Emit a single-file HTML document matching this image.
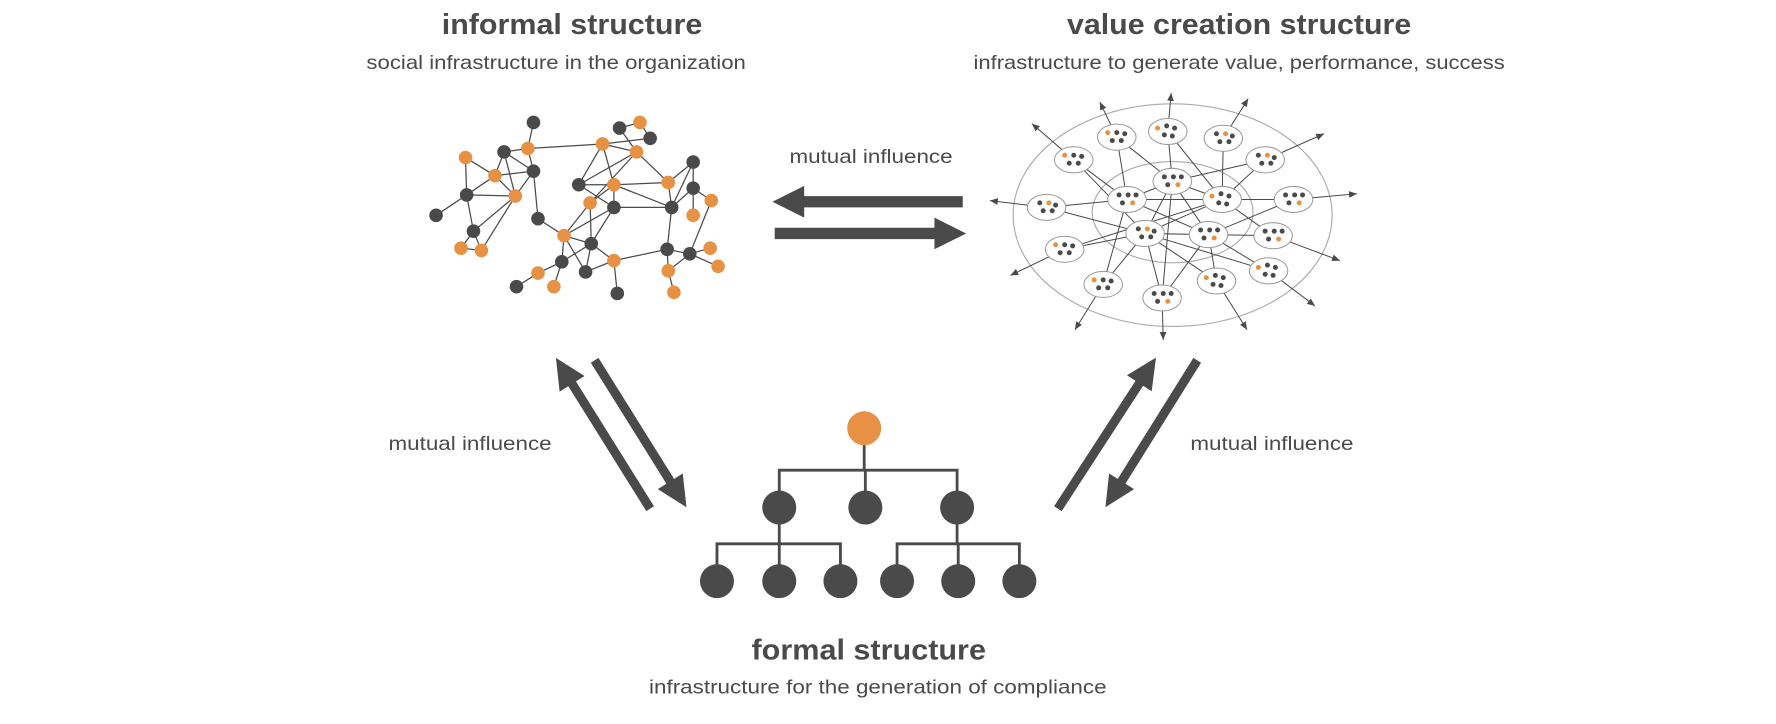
<!DOCTYPE html>
<html><head><meta charset="utf-8"><style>
html,body{margin:0;padding:0;background:#fff;width:1776px;height:724px;overflow:hidden}
svg{display:block}
text{font-family:"Liberation Sans",sans-serif;fill:#4a4a4a}
</style></head><body>
<svg width="1776" height="724" viewBox="0 0 1568 639" xmlns="http://www.w3.org/2000/svg" xmlns:xlink="http://www.w3.org/1999/xlink">
<defs>
<marker id="ah" markerWidth="8" markerHeight="8" refX="7" refY="4" orient="auto" markerUnits="userSpaceOnUse"><path d="M0,1 L7,4 L0,7 Z" fill="#4a4a4a"/></marker>
<g id="p0"><ellipse rx="17" ry="11.5" fill="#fff" stroke="#999" stroke-width="0.9"/><circle cx="-8" cy="-4" r="2.2" fill="#e69143"/><g fill="#4a4a4a"><circle cx="0" cy="-4" r="2.2"/><circle cx="7" cy="-3" r="2.2"/><circle cx="-4" cy="3" r="2.2"/><circle cx="4" cy="3" r="2.2"/></g></g>
<g id="p1"><ellipse rx="17" ry="11.5" fill="#fff" stroke="#999" stroke-width="0.9"/><circle cx="5" cy="3" r="2.2" fill="#e69143"/><g fill="#4a4a4a"><circle cx="-7" cy="-4" r="2.2"/><circle cx="1" cy="-4" r="2.2"/><circle cx="8" cy="-4" r="2.2"/><circle cx="-4" cy="3" r="2.2"/></g></g>
<g id="p2"><ellipse rx="17" ry="11.5" fill="#fff" stroke="#999" stroke-width="0.9"/><circle cx="-9" cy="-3" r="2.2" fill="#e69143"/><g fill="#4a4a4a"><circle cx="-1" cy="-5" r="2.2"/><circle cx="6" cy="-3" r="2.2"/><circle cx="-3" cy="3" r="2.2"/><circle cx="4" cy="4" r="2.2"/></g></g>
<g id="p3"><ellipse rx="17" ry="11.5" fill="#fff" stroke="#999" stroke-width="0.9"/><circle cx="2" cy="-4" r="2.2" fill="#e69143"/><g fill="#4a4a4a"><circle cx="-6" cy="-4" r="2.2"/><circle cx="8" cy="-2" r="2.2"/><circle cx="-3" cy="3" r="2.2"/><circle cx="5" cy="3" r="2.2"/></g></g>
</defs>
<g text-anchor="middle">
<text x="505" y="30" font-size="25" font-weight="bold" textLength="230" lengthAdjust="spacingAndGlyphs">informal structure</text>
<text x="491" y="61" font-size="17" textLength="335" lengthAdjust="spacingAndGlyphs">social infrastructure in the organization</text>
<text x="1094" y="30" font-size="25" font-weight="bold" textLength="304" lengthAdjust="spacingAndGlyphs">value creation structure</text>
<text x="1094" y="61" font-size="17" textLength="469" lengthAdjust="spacingAndGlyphs">infrastructure to generate value, performance, success</text>
<text x="767" y="582" font-size="25" font-weight="bold" textLength="207" lengthAdjust="spacingAndGlyphs">formal structure</text>
<text x="775" y="612" font-size="17" textLength="404" lengthAdjust="spacingAndGlyphs">infrastructure for the generation of compliance</text>
<text x="769" y="144" font-size="17" textLength="144" lengthAdjust="spacingAndGlyphs">mutual influence</text>
<text x="415" y="397" font-size="17" textLength="144" lengthAdjust="spacingAndGlyphs">mutual influence</text>
<text x="1123" y="397" font-size="17" textLength="144" lengthAdjust="spacingAndGlyphs">mutual influence</text>
</g>
<g fill="#4a4a4a">
<polygon points="682,178 710,164 710,173 850,173 850,183 710,183 710,192"/>
<polygon points="853,206 825,192 825,201 684,201 684,211 825,211 825,220"/>
<g transform="translate(574,449) rotate(-122)"><polygon points="0,-4 130,-4 130,-13 157,0 130,13 130,4 0,4"/></g>
<g transform="translate(525,318) rotate(58)"><polygon points="0,-4 126,-4 126,-13 153,0 126,13 126,4 0,4"/></g>
<g transform="translate(934,449) rotate(-57)"><polygon points="0,-4 132,-4 132,-13 159,0 132,13 132,4 0,4"/></g>
<g transform="translate(1057,318) rotate(122)"><polygon points="0,-4 126,-4 126,-13 153,0 126,13 126,4 0,4"/></g>
</g>
<g stroke="#4a4a4a" stroke-width="2.5" fill="none">
<path d="M763,378 V415 M688,448 V415 H845 V448 M764,415 V448 M688,448 V480 M633,513 V480 H742 V513 M688,480 V513 M845,448 V480 M792,513 V480 H900 V513 M846,480 V513"/>
</g>
<g fill="#4a4a4a">
<circle cx="688" cy="448" r="15"/><circle cx="764" cy="448" r="15"/><circle cx="845" cy="448" r="15"/>
<circle cx="633" cy="513" r="15"/><circle cx="688" cy="513" r="15"/><circle cx="742" cy="513" r="15"/>
<circle cx="792" cy="513" r="15"/><circle cx="846" cy="513" r="15"/><circle cx="900" cy="513" r="15"/>
</g>
<circle cx="763" cy="378" r="15" fill="#e69143"/>
<!-- informal network -->
<path stroke="#4a4a4a" stroke-width="1.1" fill="none" d="M471,108L466,131 M466,131L445,134 M466,131L532,127 M466,131L471,151 M445,134L437,155 M445,134L471,151 M445,134L455,173 M411,139L437,155 M411,139L412,172 M437,155L412,172 M437,155L471,151 M437,155L455,173 M412,172L455,173 M412,172L385,190 M412,172L418,204 M471,151L455,173 M471,151L475,193 M455,173L418,204 M455,173L425,221 M418,204L407,219 M418,204L425,221 M407,219L425,221 M475,193L498,208 M547,113L565,108 M547,113L562,134 M565,108L574,122 M574,122L532,127 M532,127L562,134 M532,127L511,163 M532,127L542,163 M562,134L511,163 M562,134L590,161 M562,134L521,179 M511,163L542,163 M511,163L542,183 M542,163L590,161 M542,163L593,183 M542,163L521,179 M542,163L542,183 M590,161L593,183 M612,143L590,161 M612,143L593,183 M612,143L612,166 M612,166L593,183 M612,166L612,190 M612,166L628,177 M628,177L609,224 M593,183L542,183 M593,183L589,220 M521,179L498,208 M521,179L522,215 M542,183L498,208 M542,183L522,215 M498,208L522,215 M498,208L496,231 M498,208L517,240 M522,215L496,231 M522,215L517,240 M522,215L542,230 M517,240L542,230 M496,231L475,241 M496,231L489,253 M475,241L456,253 M542,230L545,259 M542,230L589,220 M589,220L609,224 M589,220L590,239 M609,224L627,219 M609,224L634,235 M590,239L595,258 M609,224L590,239"/>
<g fill="#4a4a4a">
<circle cx="471" cy="108" r="6"/><circle cx="445" cy="134" r="6"/><circle cx="471" cy="151" r="6"/><circle cx="412" cy="172" r="6"/><circle cx="385" cy="190" r="6"/><circle cx="475" cy="193" r="6"/><circle cx="418" cy="204" r="6"/><circle cx="547" cy="113" r="6"/><circle cx="574" cy="122" r="6"/><circle cx="511" cy="163" r="6"/><circle cx="612" cy="143" r="6"/><circle cx="612" cy="166" r="6"/><circle cx="593" cy="183" r="6"/><circle cx="542" cy="183" r="6"/><circle cx="522" cy="215" r="6"/><circle cx="496" cy="231" r="6"/><circle cx="517" cy="240" r="6"/><circle cx="456" cy="253" r="6"/><circle cx="545" cy="259" r="6"/><circle cx="589" cy="220" r="6"/><circle cx="609" cy="224" r="6"/>
</g>
<g fill="#e69143">
<circle cx="466" cy="131" r="6"/><circle cx="411" cy="139" r="6"/><circle cx="437" cy="155" r="6"/><circle cx="455" cy="173" r="6"/><circle cx="407" cy="219" r="6"/><circle cx="425" cy="221" r="6"/><circle cx="565" cy="108" r="6"/><circle cx="532" cy="127" r="6"/><circle cx="562" cy="134" r="6"/><circle cx="542" cy="163" r="6"/><circle cx="590" cy="161" r="6"/><circle cx="628" cy="177" r="6"/><circle cx="612" cy="190" r="6"/><circle cx="521" cy="179" r="6"/><circle cx="498" cy="208" r="6"/><circle cx="542" cy="230" r="6"/><circle cx="475" cy="241" r="6"/><circle cx="489" cy="253" r="6"/><circle cx="627" cy="219" r="6"/><circle cx="634" cy="235" r="6"/><circle cx="590" cy="239" r="6"/><circle cx="595" cy="258" r="6"/>
</g>
<!-- value network -->
<ellipse cx="1035.3" cy="189.8" rx="140.8" ry="98.3" fill="none" stroke="#aaa" stroke-width="1"/>
<ellipse cx="1035.3" cy="187.2" rx="71" ry="44.7" fill="none" stroke="#aaa" stroke-width="1"/>
<path stroke="#4a4a4a" stroke-width="0.9" fill="none" d="M986,121L995,176 M986,121L1035,160 M1031,116L1035,160 M1031,116L1079,176 M1080,122L1079,176 M948,141L1011,206 M948,141L995,176 M1117,141L1035,160 M1117,141L1079,176 M924,183L995,176 M924,183L1011,206 M1142,176L1079,176 M1142,176L1067,207 M1124,208L1067,207 M1079,176L1124,208 M940,220L1011,206 M940,220L1079,176 M974,251L1011,206 M974,251L995,176 M1026,263L1035,160 M1026,263L1011,206 M1026,263L1067,207 M1074,248L1011,206 M1074,248L1067,207 M1120,239L1011,206 M1120,239L1067,207 M1035,160L995,176 M1035,160L1079,176 M1035,160L1011,206 M1035,160L1067,207 M995,176L1079,176 M995,176L1067,207 M1079,176L1011,206 M1011,206L1067,207"/>
<g stroke="#4a4a4a" stroke-width="0.9" marker-end="url(#ah)">
<line x1="986" y1="121" x2="971" y2="90"/><line x1="1031" y1="116" x2="1034" y2="82"/><line x1="1080" y1="122" x2="1102" y2="87"/><line x1="948" y1="141" x2="911" y2="109"/><line x1="1117" y1="141" x2="1169" y2="118"/><line x1="1142" y1="176" x2="1198" y2="171"/><line x1="924" y1="183" x2="874" y2="177"/><line x1="1124" y1="208" x2="1183" y2="230"/><line x1="1120" y1="239" x2="1161" y2="270"/><line x1="940" y1="220" x2="892" y2="243"/><line x1="974" y1="251" x2="949" y2="291"/><line x1="1026" y1="263" x2="1027" y2="300"/><line x1="1074" y1="248" x2="1101" y2="291"/>
</g>
<use xlink:href="#p0" href="#p0" x="986" y="121"/>
<use xlink:href="#p2" href="#p2" x="1031" y="116"/>
<use xlink:href="#p3" href="#p3" x="1080" y="122"/>
<use xlink:href="#p0" href="#p0" x="948" y="141"/>
<use xlink:href="#p3" href="#p3" x="1117" y="141"/>
<use xlink:href="#p1" href="#p1" x="1035" y="160"/>
<use xlink:href="#p1" href="#p1" x="995" y="176"/>
<use xlink:href="#p2" href="#p2" x="1079" y="176"/>
<use xlink:href="#p3" href="#p3" x="924" y="183"/>
<use xlink:href="#p1" href="#p1" x="1142" y="176"/>
<use xlink:href="#p3" href="#p3" x="1011" y="206"/>
<use xlink:href="#p1" href="#p1" x="1067" y="207"/>
<use xlink:href="#p1" href="#p1" x="1124" y="208"/>
<use xlink:href="#p0" href="#p0" x="940" y="220"/>
<use xlink:href="#p2" href="#p2" x="1120" y="239"/>
<use xlink:href="#p0" href="#p0" x="974" y="251"/>
<use xlink:href="#p2" href="#p2" x="1074" y="248"/>
<use xlink:href="#p1" href="#p1" x="1026" y="263"/>
</svg>
</body></html>
